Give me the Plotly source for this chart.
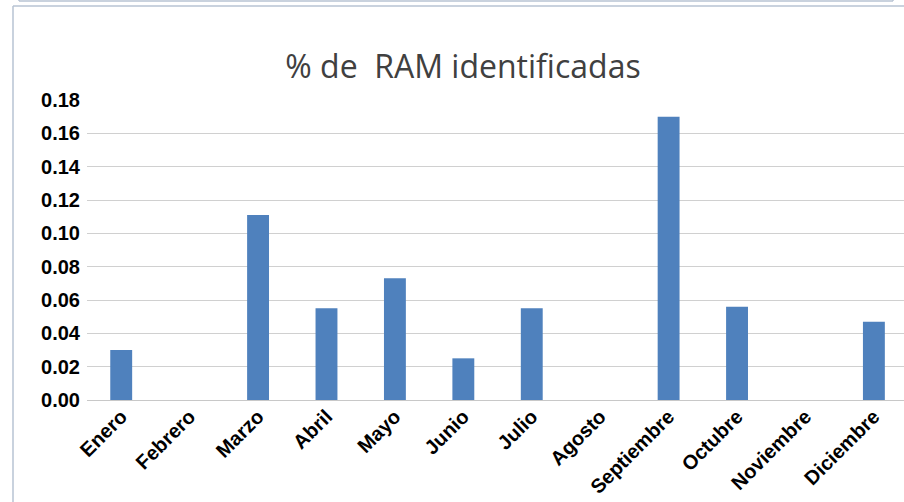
import plotly.graph_objects as go

months = ["Enero", "Febrero", "Marzo", "Abril", "Mayo", "Junio", "Julio",
          "Agosto", "Septiembre", "Octubre", "Noviembre", "Diciembre"]
values = [0.030, 0.0, 0.111, 0.055, 0.073, 0.025, 0.055, 0.0, 0.170, 0.056, 0.0, 0.047]
y_ticks = [0.00, 0.02, 0.04, 0.06, 0.08, 0.10, 0.12, 0.14, 0.16, 0.18]
y_labels = [f"{v:.2f}" for v in y_ticks]

W, H = 904, 502
fig = go.Figure(go.Bar(x=list(range(len(months))), y=values, marker_color="#4f81bd",
                       marker_line_width=0))

border = "#b7c3d3"
PW = W - 87
fig.update_layout(
    width=W, height=H,
    margin=dict(l=87, r=0, t=100, b=102, autoexpand=False),
    paper_bgcolor="white", plot_bgcolor="white",
    bargap=0.68,
    showlegend=False,
    title=dict(text="% de\u00a0 RAM identificadas", x=463 / W, xanchor="center",
               y=1 - 67 / H, yanchor="middle",
               font=dict(family="Open Sans", size=32, color="#404040")),
    xaxis=dict(tickmode="array", tickvals=list(range(len(months))), ticktext=months,
               range=[-0.5, 11.44], tickangle=-45, showgrid=False, zeroline=False,
               showline=False, ticks="", automargin=False,
               tickfont=dict(family="Liberation Sans", size=20, color="black", weight="bold")),
    yaxis=dict(range=[0, 0.18], tickmode="array", tickvals=y_ticks, ticktext=y_labels,
               showgrid=True, gridcolor="#d0d0d0", gridwidth=1, zeroline=True,
               zerolinecolor="#c8c8c8", zerolinewidth=1, showline=False, ticks="",
               ticklabelstandoff=6, automargin=False,
               tickfont=dict(family="Liberation Sans", size=20, color="black", weight="bold")),
    shapes=[
        dict(type="line", xref="paper", yref="paper", x0=-74 / PW, x1=-74 / PW,
             y0=-200 / 300, y1=1 + 94 / 300, line=dict(color=border, width=1.5)),
        dict(type="line", xref="paper", yref="paper", x0=-74 / PW, x1=1.1,
             y0=1 + 94 / 300, y1=1 + 94 / 300, line=dict(color=border, width=1.5)),
        dict(type="line", xref="paper", yref="paper", x0=-68 / PW, x1=(893 - 87) / PW,
             y0=1 + 99 / 300, y1=1 + 99 / 300, line=dict(color=border, width=1.5)),
        dict(type="line", xref="paper", yref="paper", x0=-68 / PW, x1=-68 / PW,
             y0=1 + 99 / 300, y1=1.5, line=dict(color=border, width=1.5)),
        dict(type="line", xref="paper", yref="paper", x0=(893 - 87) / PW, x1=(893 - 87) / PW,
             y0=1 + 99 / 300, y1=1.5, line=dict(color=border, width=1.5)),
    ],
)
fig.write_html("out.html", config={"displayModeBar": False},
               post_script="document.body.style.margin='0';")
